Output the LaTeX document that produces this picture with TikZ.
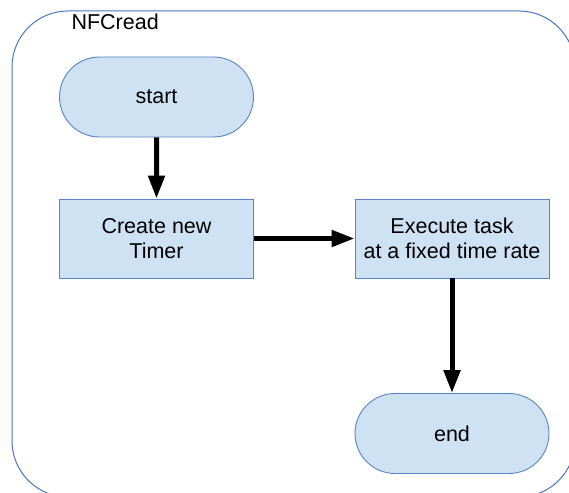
\documentclass[tikz,border=0pt]{standalone}
\usepackage{fontspec}
\setmainfont{Liberation Sans}
\usetikzlibrary{shapes.misc,arrows.meta}
\definecolor{boxfill}{HTML}{CFE2F3}
\definecolor{boxline}{HTML}{5B82C6}
\definecolor{frameline}{HTML}{4A74C0}
\tikzset{
  flowtext/.style={font=\fontsize{21.5}{24.5}\selectfont, align=center, text=black},
  terminal/.style={rounded rectangle, draw=boxline, fill=boxfill, line width=0.9pt,
    minimum width=194pt, minimum height=80pt, inner sep=0pt, flowtext},
  process/.style={rectangle, draw=boxline, fill=boxfill, line width=0.9pt,
    minimum width=194pt, minimum height=79pt, inner sep=0pt, flowtext},
  flow/.style={line width=5pt, -{Triangle[length=23pt,width=16pt]}}
}
\begin{document}
\begin{tikzpicture}[x=1pt,y=-1pt]
  \useasboundingbox (0,0) rectangle (569,492);
  \clip (0,0) rectangle (569,492);
  % outer container
  \draw[frameline, line width=1pt, rounded corners=56pt] (12,11) rectangle (575,497);
  \node[anchor=west, font=\fontsize{21.5}{24}\selectfont] (title) at (68,22) {NFCread};
  % flowchart steps
  \node[terminal] (start) at (156.5,97) {start};
  \node[process] (create) at (156.5,238.5) {Create new\\Timer};
  \node[process] (exec) at (452,238.5) {Execute task\\at a fixed time rate};
  \node[terminal] (end) at (452,433.5) {end};
  % connectors
  \draw[flow] (start) -- (create);
  \draw[flow] (create) -- (exec);
  \draw[flow] (exec) -- (end);
\end{tikzpicture}
\end{document}
